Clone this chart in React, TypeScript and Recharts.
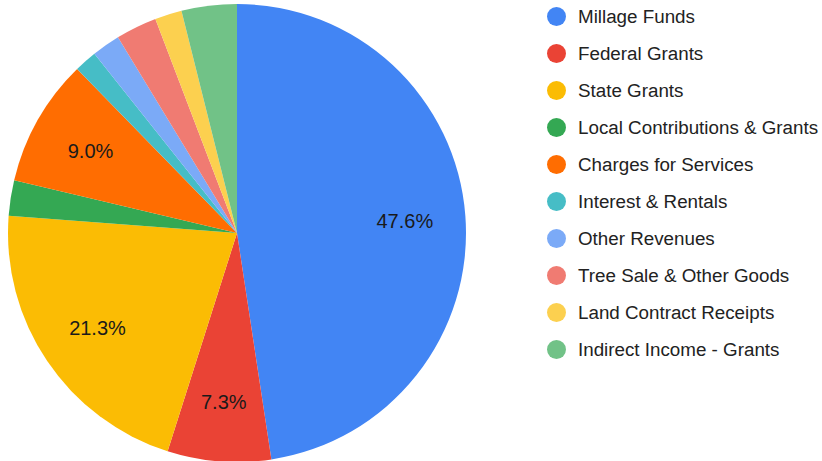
import React from "react";
import { PieChart, Pie, Cell, Legend } from "recharts";

const categories = [
  "Millage Funds",
  "Federal Grants",
  "State Grants",
  "Local Contributions & Grants",
  "Charges for Services",
  "Interest & Rentals",
  "Other Revenues",
  "Tree Sale & Other Goods",
  "Land Contract Receipts",
  "Indirect Income - Grants",
];
const shares = [47.6, 7.3, 21.3, 2.5, 9.0, 1.6, 2.0, 2.9, 1.9, 3.9];
const colors = [
  "#4285F4",
  "#EA4335",
  "#FBBC04",
  "#34A853",
  "#FF6D01",
  "#46BDC6",
  "#7BAAF7",
  "#F07B72",
  "#FCD04F",
  "#71C287",
];

const data = categories.map((name, i) => ({ name, value: shares[i], color: colors[i] }));

const FONT = "Arial, 'Liberation Sans', sans-serif";
const RAD = Math.PI / 180;

const renderLabel = (props: any) => {
  const { cx, cy, midAngle, outerRadius, percent } = props;
  if (percent < 0.05) return null;
  const r = outerRadius * 0.735;
  const x = cx + r * Math.cos(-midAngle * RAD);
  const y = cy + r * Math.sin(-midAngle * RAD);
  return (
    <text
      x={x}
      y={y + 1}
      fill="#1a1a1a"
      textAnchor="middle"
      dominantBaseline="central"
      fontSize={20}
      fontFamily={FONT}
    >
      {(percent * 100).toFixed(1) + "%"}
    </text>
  );
};

const renderLegend = () => (
  <div style={{ fontFamily: FONT }}>
    {data.map((d) => (
      <div
        key={d.name}
        style={{ display: "flex", alignItems: "center", height: 37 }}
      >
        <span
          style={{
            display: "inline-block",
            flex: "0 0 19px",
            width: 19,
            height: 19,
            borderRadius: "50%",
            background: d.color,
            marginRight: 12,
          }}
        />
        <span style={{ fontSize: 18.8, color: "#222", whiteSpace: "nowrap" }}>{d.name}</span>
      </div>
    ))}
  </div>
);

export default function App() {
  return (
    <div style={{ position: "absolute", left: 0, top: 0, width: 822, height: 461, background: "#fff" }}>
      <PieChart width={822} height={461}>
        <Pie
          data={data}
          dataKey="value"
          nameKey="name"
          cx={232}
          cy={228}
          outerRadius={229}
          startAngle={90}
          endAngle={-270}
          stroke="none"
          label={renderLabel}
          labelLine={false}
          isAnimationActive={false}
        >
          {data.map((d) => (
            <Cell key={d.name} fill={d.color} />
          ))}
        </Pie>
        <Legend
          content={renderLegend}
          wrapperStyle={{ position: "absolute", left: 547, top: -2, width: 275 }}
        />
      </PieChart>
    </div>
  );
}
